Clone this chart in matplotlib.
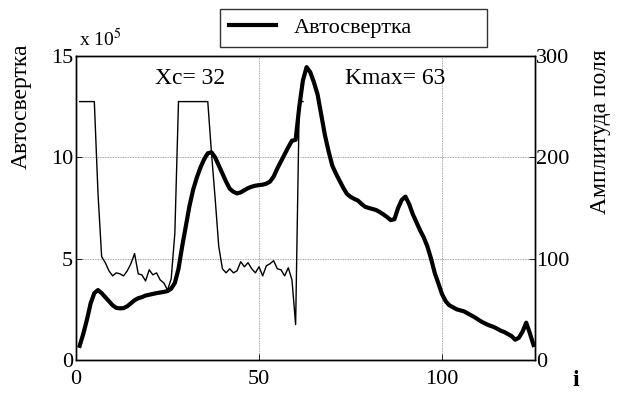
import matplotlib
matplotlib.use("Agg")
import matplotlib.pyplot as plt
from matplotlib.lines import Line2D

plt.rcParams['font.family'] = ['Liberation Serif', 'DejaVu Serif']
plt.rcParams['mathtext.fontset'] = 'stix'

# Autoconvolution (x 10^5), i = 1..125
autoconv = [0.7, 1.3, 2.0, 2.8, 3.3, 3.45, 3.3, 3.1, 2.9, 2.7,
            2.57, 2.55, 2.56, 2.65, 2.8, 2.95, 3.05, 3.1, 3.18, 3.22,
            3.26, 3.3, 3.33, 3.36, 3.4, 3.52, 3.8, 4.5, 5.6, 6.6,
            7.6, 8.4, 9.0, 9.5, 9.9, 10.2, 10.25, 10.0, 9.6, 9.2,
            8.8, 8.45, 8.3, 8.22, 8.27, 8.38, 8.48, 8.55, 8.6, 8.63,
            8.65, 8.7, 8.8, 9.05, 9.45, 9.8, 10.15, 10.5, 10.82, 10.86,
            12.5, 13.8, 14.45, 14.2, 13.7, 13.1, 12.1, 11.1, 10.3, 9.6,
            9.2, 8.85, 8.5, 8.2, 8.05, 7.95, 7.87, 7.7, 7.56, 7.5,
            7.45, 7.4, 7.3, 7.18, 7.05, 6.9, 6.95, 7.5, 7.9, 8.06,
            7.7, 7.2, 6.8, 6.4, 6.05, 5.6, 5.0, 4.3, 3.78, 3.25,
            2.9, 2.7, 2.6, 2.5, 2.45, 2.4, 2.3, 2.2, 2.1, 1.98,
            1.87, 1.78, 1.7, 1.64, 1.55, 1.45, 1.38, 1.28, 1.18, 1.0,
            1.1, 1.4, 1.84, 1.32, 0.74]
i_auto = list(range(1, len(autoconv) + 1))

# Field amplitude (right axis), i = 1..62
amplitude = [255, 255, 255, 255, 255, 165, 102, 96, 88, 83,
             86, 85, 83, 88, 95, 105, 85, 84, 78, 89,
             84, 86, 79, 76, 69, 80, 125, 255, 255, 255,
             255, 255, 255, 255, 255, 255, 205, 160, 112, 90,
             86, 90, 86, 88, 97, 92, 96, 90, 86, 92,
             83, 93, 95, 98, 90, 89, 83, 91, 79, 35,
             255, 255]
i_amp = list(range(1, len(amplitude) + 1))

left_ticks = [0, 5, 10, 15]
right_ticks = [0, 100, 200, 300]
x_ticks = [0, 50, 100]

fig = plt.figure(figsize=(6.2, 3.94), dpi=100)
ax = fig.add_axes([0.1226, 0.0863, 0.7403, 0.7716])
ax2 = ax.twinx()

ax.plot(i_auto, autoconv, color='black', lw=3.0, solid_joinstyle='round', zorder=3)
ax2.plot(i_amp, amplitude, color='black', lw=1.0, zorder=2)

ax.set_xlim(0, 125.4)
ax.set_ylim(0, 15)
ax2.set_ylim(0, 300)
ax.set_xticks(x_ticks)
ax.set_yticks(left_ticks)
ax2.set_yticks(right_ticks)

for a in (ax, ax2):
    a.tick_params(direction='in', labelsize=16, length=4, width=0.6)
    for s in a.spines.values():
        s.set_linewidth(1.0)
ax.tick_params(axis='x', pad=7)
ax.tick_params(axis='y', pad=2)
ax2.tick_params(axis='y', pad=1)

ax.grid(True, color='#888888', linestyle=(0, (1, 1)), linewidth=0.6)
ax.set_axisbelow(True)

ax.text(21.5, 13.9, 'Xc= 32', fontsize=17, va='center', ha='left')
ax.text(73.5, 13.9, 'Kmax= 63', fontsize=17, va='center', ha='left')

fig.text(0.127, 0.9, r'x 10$^{5}$', fontsize=14, ha='left', va='center')
fig.text(0.035, 0.73, 'Автосвертка', fontsize=17, rotation=90, ha='center', va='center')
fig.text(0.968, 0.665, 'Амплитуда поля', fontsize=17, rotation=90, ha='center', va='center')
fig.text(0.928, 0.035, 'i', fontsize=17, fontweight='bold', ha='center', va='center')

handle = Line2D([], [], color='black', lw=3.0)
leg = fig.legend([handle], ['Автосвертка'], loc='lower left',
                 bbox_to_anchor=(220 / 620, (394 - 47) / 394, 267 / 620, 37 / 394),
                 mode='expand', borderaxespad=0.0,
                 fontsize=16, frameon=True,
                 fancybox=False, edgecolor='black', handlelength=2.1,
                 borderpad=0.4, handletextpad=0.8)
leg.get_frame().set_linewidth(1.0)

fig.savefig('out.png', dpi=100)
